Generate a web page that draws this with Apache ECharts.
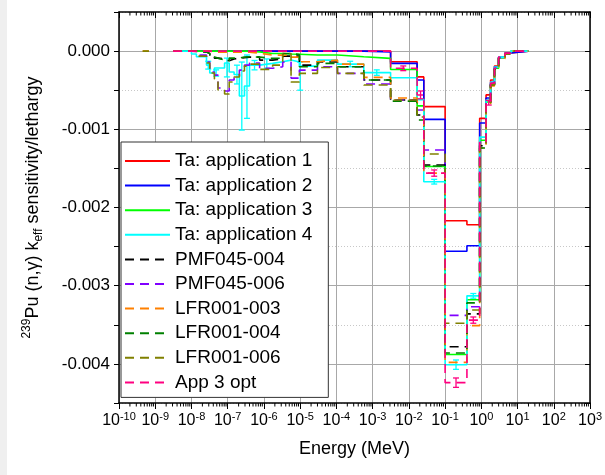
<!DOCTYPE html>
<html>
<head>
<meta charset="utf-8">
<script src="https://cdn.jsdelivr.net/npm/echarts@6/dist/echarts.min.js"></script>
<style>
  html, body { margin: 0; padding: 0; background: #fff; }
  #chart { width: 605px; height: 475px; }
</style>
</head>
<body>
<div id="chart"></div>
<script>
"use strict";

// group boundaries (MeV), one value per group for every series
var energyBounds = [3.1e-9, 1.0e-8, 1.37e-8, 2.6e-8, 3.2e-8, 4.3e-8, 5.4e-8, 8.2e-8, 1.1e-7, 1.5e-7,
  2.1e-7, 2.9e-7, 4.0e-7, 7.6e-7, 1.74e-6, 3.3e-6, 5.6e-6, 9.5e-6, 3.0e-5, 1.07e-4,
  5.7e-4, 3.13e-3, 1.69e-2, 2.58e-2, 0.1, 0.4, 0.9, 1.35, 1.8, 2.3, 3.0, 4.5, 6.5, 20];

var taApp1 = [0, 0, 0, 0, 0, 0, 0, 0, 0, 0, 0, 0, 0, 0, 0, 0, 0, 0, 0, 0, 0,
  -1.37e-4, -3.3e-4, -7.1e-4, -2.17e-3, -2.22e-3, -8.6e-4, -5.6e-4, -3.7e-4, -1.9e-4, -0.8e-4, -0.25e-4, 0];
var taApp2 = [0, 0, 0, 0, 0, 0, 0, 0, 0, 0, 0, 0, 0, 0, 0, 0, 0, 0, 0, 0,
  -0.1e-4, -1.57e-4, -3.7e-4, -8.73e-4, -2.56e-3, -2.49e-3, -9.2e-4, -6.0e-4, -4.0e-4, -2.0e-4, -0.8e-4, -0.25e-4, 0];
var taApp3 = [0, 0, 0, 0, 0, 0, 0, 0, 0, 0, 0, 0,
  -0.1e-4, -0.3e-4, -0.3e-4, -0.38e-4, -0.4e-4, -0.5e-4, -0.5e-4, -0.73e-4, -0.93e-4, -2.36e-4, -7.0e-4,
  -1.475e-3, -3.88e-3, -3.18e-3, -1.14e-3, -6.5e-4, -4.2e-4, -2.2e-4, -0.83e-4, -0.26e-4, 0];
var taApp4 = [0, -0.38e-4, -0.73e-4, -1.79e-4, -2.81e-4, -2.17e-4, -2.17e-4, -1.53e-4, -2.68e-4, -3.0e-4,
  -5.75e-4, -4.47e-4, -1.79e-4, -1.57e-4, -1.37e-4, -1.15e-4, -1.4e-4, -1.92e-4, -1.15e-4, -1.66e-4,
  -2.75e-4, -3.41e-4, -6.2e-4, -1.67e-3, -4.01e-3, -3.13e-3, -1.1e-3, -6.26e-4, -3.96e-4, -2.04e-4, -0.77e-4, -0.26e-4, 0];
var pmf045004 = [0, 0, -0.13e-4, -0.3e-4, -0.64e-4, -0.9e-4, -1.0e-4, -1.24e-4, -1.0e-4, -0.9e-4,
  -0.83e-4, -0.77e-4, -0.77e-4, -1.15e-4, -1.0e-4, -0.64e-4, -0.64e-4, -1.79e-4, -1.4e-4, -2.0e-4,
  -3.7e-4, -6.26e-4, -8.17e-4, -1.456e-3, -3.78e-3, -3.36e-3, -1.21e-3, -6.8e-4, -4.3e-4, -2.3e-4, -0.9e-4, -0.32e-4, 0];
var pmf045006 = [0, -0.06e-4, -0.51e-4, -1.4e-4, -2.68e-4, -3.07e-4, -4.72e-4, -5.1e-4, -3.7e-4, -3.19e-4,
  -2.43e-4, -1.79e-4, -1.53e-4, -2.2e-4, -2.0e-4, -1.4e-4, -3.45e-4, -2.43e-4, -2.0e-4, -2.85e-4,
  -4.2e-4, -6.26e-4, -7.53e-4, -1.264e-3, -3.38e-3, -3.27e-3, -1.17e-3, -6.6e-4, -4.2e-4, -2.2e-4, -0.83e-4, -0.26e-4, 0];
var lfr001003 = [0, 0, 0, 0, -0.13e-4, -0.13e-4, -0.13e-4, -0.13e-4, -0.13e-4, -0.13e-4,
  -0.13e-4, -0.13e-4, -0.26e-4, -0.51e-4, -0.51e-4, -0.51e-4, -0.77e-4, -1.37e-4, -1.15e-4, -1.66e-4,
  -3.36e-4, -6.0e-4, -6.5e-4, -1.56e-3, -3.98e-3, -3.51e-3, -1.24e-3, -6.9e-4, -4.47e-4, -2.43e-4, -0.96e-4, -0.38e-4, 0];
var lfr001004 = [0, 0, -0.13e-4, -0.3e-4, -0.77e-4, -0.9e-4, -1.15e-4, -1.24e-4, -0.9e-4, -0.9e-4,
  -0.77e-4, -0.73e-4, -0.77e-4, -0.93e-4, -0.9e-4, -0.3e-4, -0.45e-4, -2.0e-4, -1.57e-4, -2.0e-4,
  -3.7e-4, -6.4e-4, -8.81e-4, -1.47e-3, -3.86e-3, -3.22e-3, -1.24e-3, -6.8e-4, -4.3e-4, -2.3e-4, -0.9e-4, -0.32e-4, 0];
var lfr001006 = [0, -0.06e-4, -0.64e-4, -1.53e-4, -2.81e-4, -3.58e-4, -4.98e-4, -5.49e-4, -3.96e-4, -3.32e-4,
  -2.55e-4, -1.92e-4, -1.66e-4, -2.34e-4, -1.79e-4, -0.3e-4, -3.96e-4, -2.85e-4, -2.1e-4, -2.85e-4,
  -4.34e-4, -6.26e-4, -8.43e-4, -1.315e-3, -3.48e-3, -3.31e-3, -1.2e-3, -6.8e-4, -4.3e-4, -2.3e-4, -0.9e-4, -0.32e-4, 0];
var app3opt = [0, 0, 0, 0, 0, 0, 0, 0, 0, 0, 0, 0, 0, 0, 0, 0, 0, 0, 0, 0, 0,
  -2.2e-4, -5.62e-4, -1.56e-3, -4.24e-3, -3.44e-3, -1.17e-3, -6.6e-4, -4.1e-4, -2.2e-4, -0.77e-4, -0.26e-4, 0];

// short isolated piece at very low energy (LFR series only)
var earlyBounds = [4.5e-10, 6.7e-10];

// error bars: [energy, low, high]
var errApp4 = [[2.9e-8, -2.3e-4, -1.3e-4], [4.8e-8, -3.2e-4, -2.4e-4], [9.5e-8, -3.3e-4, -0.9e-4],
  [1.8e-7, -4.2e-4, -1.8e-4], [2.45e-7, -1.01e-3, -1.4e-4], [3.4e-7, -8.6e-4, -0.5e-4],
  [5.5e-7, -2.4e-4, -1.2e-4], [1.2e-6, -2.2e-4, -1.0e-4], [1.0e-5, -5.0e-4, -1.4e-4],
  [2.4e-4, -2.0e-4, -1.3e-4], [1.3e-3, -3.1e-4, -2.4e-4], [0.05, -1.7e-3, -1.64e-3],
  [0.2, -4.07e-3, -3.95e-3], [0.6, -3.16e-3, -3.1e-3]];
var errOpt = [[7e-3, -2.5e-4, -1.9e-4], [2.1e-2, -6.1e-4, -5.1e-4], [5e-2, -1.6e-3, -1.52e-3],
  [0.2, -4.3e-3, -4.18e-3], [0.6, -3.48e-3, -3.4e-3], [1.6, -6.9e-4, -6.3e-4]];

var seriesNames = ['Ta: application 1', 'Ta: application 2', 'Ta: application 3', 'Ta: application 4',
  'PMF045-004', 'PMF045-006', 'LFR001-003', 'LFR001-004', 'LFR001-006', 'App 3 opt'];
var seriesValues = [taApp1, taApp2, taApp3, taApp4, pmf045004, pmf045006, lfr001003, lfr001004, lfr001006, app3opt];
var seriesColors = ['#ff0000', '#0000ff', '#00ff00', '#00ffff', '#000000', '#8000ff', '#ff8000', '#008000', '#808000', '#ff0080'];
var dashed = [false, false, false, false, true, true, true, true, true, true];

var Y_MIN = -0.0045, Y_MAX = 0.0005;
var FONT = 'Liberation Sans, Arial, sans-serif';

function stepData(vals, withEarly) {
  var d = [];
  if (withEarly) {
    d.push([earlyBounds[0], 0], [earlyBounds[1], 0], [earlyBounds[1], '-']);
  }
  energyBounds.forEach(function (e, i) {
    d.push([e, vals[Math.min(i, vals.length - 1)]]);
  });
  return d;
}

// minor ticks 2..9 x 10^n for the log axis
var minorTicks = [];
for (var n = -10; n < 3; n++) {
  for (var k = 2; k < 10; k++) minorTicks.push([k * Math.pow(10, n), Y_MIN]);
}

function errRender(params, api) {
  var x = api.value(0);
  var lo = api.coord([x, api.value(1)]);
  var hi = api.coord([x, api.value(2)]);
  var st = { stroke: api.visual('color'), lineWidth: 1.3 };
  return {
    type: 'group',
    children: [
      { type: 'line', shape: { x1: lo[0], y1: lo[1], x2: hi[0], y2: hi[1] }, style: st },
      { type: 'line', shape: { x1: lo[0] - 3, y1: lo[1], x2: lo[0] + 3, y2: lo[1] }, style: st },
      { type: 'line', shape: { x1: hi[0] - 3, y1: hi[1], x2: hi[0] + 3, y2: hi[1] }, style: st }
    ]
  };
}

function minorRender(params, api) {
  var b = api.coord([api.value(0), Y_MIN]);
  var t = api.coord([api.value(0), Y_MAX]);
  var st = { stroke: '#000', lineWidth: 1 };
  return {
    type: 'group',
    children: [
      { type: 'line', shape: { x1: b[0], y1: b[1], x2: b[0], y2: b[1] + 3.5 }, style: st },
      { type: 'line', shape: { x1: t[0], y1: t[1], x2: t[0], y2: t[1] + 3.5 }, style: st }
    ]
  };
}

var series = seriesNames.map(function (name, i) {
  return {
    name: name,
    type: 'line',
    step: 'end',
    symbol: 'none',
    connectNulls: false,
    data: stepData(seriesValues[i], name === 'LFR001-003' || name === 'LFR001-006'),
    color: seriesColors[i],
    lineStyle: { width: 1.6, type: dashed[i] ? [9, 6] : 'solid', color: seriesColors[i] },
    z: 3
  };
});

series.push({
  type: 'custom', renderItem: errRender, data: errApp4, encode: { x: 0, y: [1, 2] },
  itemStyle: { color: '#00ffff' }, silent: true, z: 2
});
series.push({
  type: 'custom', renderItem: errRender, data: errOpt, encode: { x: 0, y: [1, 2] },
  itemStyle: { color: '#ff0080' }, silent: true, z: 4
});
series.push({
  type: 'custom', renderItem: minorRender, data: minorTicks, clip: false, silent: true, z: 5
});

var chart = echarts.init(document.getElementById('chart'), null, { renderer: 'canvas' });

var option = {
  animation: false,
  backgroundColor: '#ffffff',
  textStyle: { fontFamily: FONT, color: '#000' },
  graphic: [{ type: 'rect', left: 0, top: 0, shape: { width: 7, height: 475 }, style: { fill: '#efefef' }, silent: true }],
  grid: { left: 119, right: 14, top: 12, bottom: 72 },
  legend: {
    data: seriesNames,
    orient: 'vertical',
    left: 121,
    top: 142,
    itemWidth: 45,
    itemHeight: 10,
    itemGap: 2.6,
    padding: [8, 16, 4, 3],
    backgroundColor: '#ffffff',
    borderColor: '#333',
    borderWidth: 1,
    borderRadius: 0,
    itemStyle: { opacity: 0 },
    textStyle: { fontSize: 19, lineHeight: 22, color: '#000', fontFamily: FONT },
    z: 10
  },
  xAxis: [{
    type: 'log',
    logBase: 10,
    min: 1e-10,
    max: 1e3,
    interval: 1,
    splitNumber: 13,
    position: 'bottom',
    name: 'Energy (MeV)',
    nameLocation: 'middle',
    nameGap: 37,
    nameTextStyle: { fontSize: 18, color: '#000', fontFamily: FONT },
    axisLine: { onZero: false, lineStyle: { color: '#000', width: 1.5 } },
    axisTick: { inside: false, length: 6, lineStyle: { color: '#000' } },
    axisLabel: {
      margin: 8,
      color: '#000',
      formatter: function (v) {
        var p = Math.round(Math.log10(v));
        return '{b|10}{s|' + p + '}';
      },
      rich: {
        b: { fontSize: 16, lineHeight: 20, fontFamily: FONT, color: '#000' },
        s: { fontSize: 11, lineHeight: 12, verticalAlign: 'top', fontFamily: FONT, color: '#000' }
      }
    },
    splitLine: { show: true, lineStyle: { color: '#a8a8a8', width: 1 } }
  }, {
    type: 'log',
    logBase: 10,
    min: 1e-10,
    max: 1e3,
    interval: 1,
    splitNumber: 13,
    position: 'top',
    axisLine: { onZero: false, lineStyle: { color: '#000', width: 1.5 } },
    axisTick: { inside: true, length: 6, lineStyle: { color: '#000' } },
    axisLabel: { show: false },
    splitLine: { show: false }
  }],
  yAxis: [{
    type: 'value',
    min: Y_MIN,
    max: Y_MAX,
    interval: 0.0005,
    position: 'left',
    name: '{sup|239}{b|Pu (n,γ) k}{sub|eff}{b| sensitivity/lethargy}',
    nameLocation: 'middle',
    nameRotate: 90,
    nameGap: 74,
    nameTextStyle: {
      rich: {
        b: { fontSize: 18, lineHeight: 24, fontFamily: FONT, color: '#000' },
        sup: { fontSize: 12, lineHeight: 13, verticalAlign: 'top', fontFamily: FONT, color: '#000' },
        sub: { fontSize: 12, lineHeight: 13, verticalAlign: 'bottom', fontFamily: FONT, color: '#000' }
      }
    },
    axisLine: { onZero: false, lineStyle: { color: '#000', width: 1.5 } },
    axisTick: { inside: false, length: 5, lineStyle: { color: '#000' } },
    axisLabel: {
      margin: 9,
      fontSize: 17,
      color: '#000',
      formatter: function (v) {
        var m = v * 1000;
        if (Math.abs(m - Math.round(m)) > 1e-6) return '';
        var r = Math.round(m);
        return r === 0 ? '0.000' : (r / 1000).toFixed(3);
      }
    },
    splitLine: { show: true, lineStyle: { color: ['rgba(0,0,0,0)', '#a8a8a8'], width: 1 } }
  }, {
    type: 'value',
    min: Y_MIN,
    max: Y_MAX,
    interval: 0.0005,
    position: 'right',
    axisLine: { onZero: false, lineStyle: { color: '#000', width: 1.5 } },
    axisTick: { inside: true, length: 5, lineStyle: { color: '#000' } },
    axisLabel: { show: false },
    splitLine: { show: true, lineStyle: { color: ['#c8c8c8', 'rgba(0,0,0,0)'], width: 1, type: [1, 2] } }
  }],
  series: series
};

chart.setOption(option);
</script>
</body>
</html>
